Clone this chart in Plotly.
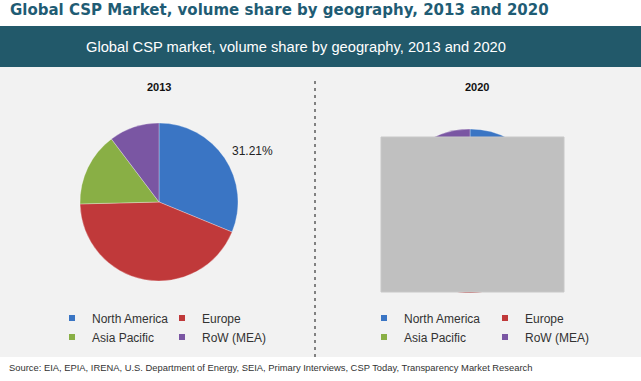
import plotly.graph_objects as go

W, H = 641, 381

# ---- data ----
regions = ["North America", "Europe", "Asia Pacific", "RoW (MEA)"]
share_2013 = [31.21, 43.40, 15.10, 10.29]
share_2020 = [33.50, 36.80, 17.90, 11.80]   # mostly hidden in the source image
years = ["2013", "2020"]
colors = ["#3A75C4", "#C0393A", "#89AF45", "#7A56A3"]

title_text = "Global CSP Market, volume share by geography, 2013 and 2020"
banner_text = "Global CSP market, volume share by geography, 2013 and 2020"
source_text = ("Source: EIA, EPIA, IRENA, U.S. Department of Energy, SEIA, Primary Interviews, "
               "CSP Today, Transparency Market Research")


def px(x):
    return x / W


def py(y):
    return 1 - y / H


fig = go.Figure()

# pies
pie_domains = [
    dict(x=[px(80), px(238)], y=[py(281), py(123)]),
    dict(x=[px(388), px(552)], y=[py(293), py(129)]),
]
for yr, vals, dom in zip(years, [share_2013, share_2020], pie_domains):
    fig.add_trace(go.Pie(
        labels=regions, values=vals, name=yr, sort=False,
        direction="clockwise", rotation=0,
        marker=dict(colors=colors, line=dict(width=0.6, color="rgba(255,255,255,0.5)")),
        textinfo="none", showlegend=False, domain=dom,
        hoverinfo="label+percent",
    ))

# legend entries (two legends, 2x2 each)
order = [0, 2, 1, 3]
for leg in ["legend", "legend2"]:
    for i in order:
        fig.add_trace(go.Scatter(
            x=[None], y=[None], mode="markers", name=regions[i],
            marker=dict(symbol="square", size=6, color=colors[i]),
            legend=leg, legendgroup=f"{leg}_col{i % 2}",
            showlegend=True, hoverinfo="skip",
        ))

leg_font = dict(family="Liberation Sans, Arial, sans-serif", size=12, color="#333333")
legend_common = dict(orientation="h", traceorder="grouped", xanchor="left",
                     yanchor="top", y=py(303.5), entrywidthmode="pixels",
                     font=leg_font, bgcolor="rgba(0,0,0,0)", borderwidth=0,
                     itemwidth=30, itemclick=False, itemdoubleclick=False)

fig.update_layout(
    width=W, height=H,
    margin=dict(l=0, r=0, t=0, b=0),
    paper_bgcolor="white", plot_bgcolor="rgba(0,0,0,0)",
    xaxis=dict(visible=False), yaxis=dict(visible=False),
    legend=dict(x=px(52), entrywidth=65, **legend_common),
    legend2=dict(x=px(364), entrywidth=76, **legend_common),
    shapes=[
        dict(type="rect", xref="paper", yref="paper", x0=0, x1=1,
             y0=py(67), y1=py(26), fillcolor="#22596A", line=dict(width=0), layer="below"),
        dict(type="rect", xref="paper", yref="paper", x0=0, x1=1,
             y0=py(357), y1=py(67), fillcolor="#F2F2F2", line=dict(width=0), layer="below"),
        dict(type="line", xref="paper", yref="paper", x0=px(315), x1=px(315),
             y0=py(357), y1=py(78), line=dict(color="#111111", width=1, dash="3px,4px"),
             layer="below"),
        dict(type="rect", xref="paper", yref="paper", x0=px(381), x1=px(564),
             y0=py(292), y1=py(137), fillcolor="#C0C0C0",
             line=dict(width=1, color="#C8C8C8"), layer="above"),
    ],
    annotations=[
        dict(text=f"<b>{title_text}</b>", xref="paper", yref="paper",
             x=px(8), y=py(10), xanchor="left", yanchor="middle", showarrow=False,
             font=dict(family="DejaVu Sans, Arial", size=15, color="#1F5C74")),
        dict(text=banner_text, xref="paper", yref="paper",
             x=px(296), y=py(47), xanchor="center", yanchor="middle", showarrow=False,
             font=dict(family="Liberation Sans, Arial", size=14.7, color="white")),
        dict(text=f"<b>{years[0]}</b>", xref="paper", yref="paper",
             x=px(159), y=py(87), xanchor="center", yanchor="middle", showarrow=False,
             font=dict(family="Liberation Sans, Arial", size=11, color="#111111")),
        dict(text=f"<b>{years[1]}</b>", xref="paper", yref="paper",
             x=px(477), y=py(87), xanchor="center", yanchor="middle", showarrow=False,
             font=dict(family="Liberation Sans, Arial", size=11, color="#111111")),
        dict(text=f"{share_2013[0]:.2f}%", xref="paper", yref="paper",
             x=px(252), y=py(151), xanchor="center", yanchor="middle", showarrow=False,
             font=dict(family="Liberation Sans, Arial", size=12, color="#222222")),
        dict(text=source_text, xref="paper", yref="paper",
             x=px(7), y=py(367), xanchor="left", yanchor="middle", showarrow=False,
             font=dict(family="Liberation Sans, Arial", size=9.4, color="#333333")),
    ],
)

fig.write_html("out.html", config={"displayModeBar": False},
               post_script="document.body.style.margin='0';")
